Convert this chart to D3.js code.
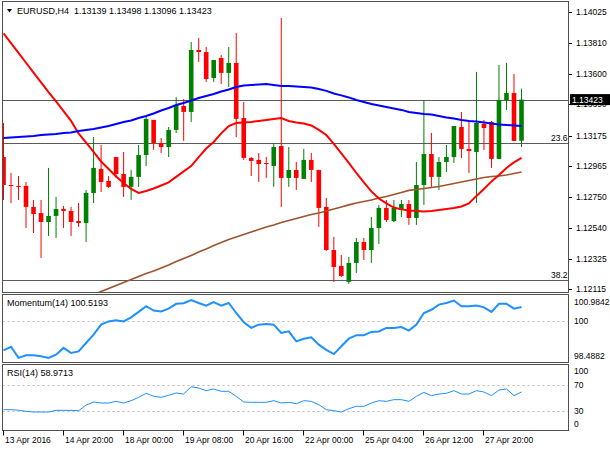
<!DOCTYPE html>
<html>
<head>
<meta charset="utf-8">
<script src="https://cdn.jsdelivr.net/npm/d3@7"></script>
<style>
body { margin: 0; background: #fff; }
text { font-family: "Liberation Sans", Arial, sans-serif; }
</style>
</head>
<body>
<div id="chart"></div>
<script>
// EURUSD H4, 70 bars
var symbol = "EURUSD,H4";

var open = [
1.13027,1.12834,1.12828,1.12828,1.12683,1.12641,1.12579,1.12621,1.12669,1.12655,
1.12586,1.12572,1.12779,1.12945,1.12862,1.13027,1.12910,1.12821,1.12890,1.13041,
1.13283,1.13124,1.13096,1.13214,1.13379,1.13338,1.13765,1.13751,1.13572,1.13710,
1.13607,1.13676,1.13296,1.13021,1.13007,1.12986,1.12965,1.13103,1.12883,1.12938,
1.12876,1.13007,1.12938,1.12683,1.12386,1.12276,1.12166,1.12297,1.12441,1.12386,
1.12538,1.12676,1.12586,1.12662,1.12703,1.12607,1.12834,1.13048,1.12890,1.12993,
1.13027,1.13234,1.13083,1.13062,1.13255,1.13269,1.13014,1.13420,1.13469,1.13139];

var high = [
1.13262,1.12917,1.12896,1.12855,1.12731,1.12731,1.12952,1.12752,1.12690,1.12683,
1.12710,1.12800,1.13165,1.13110,1.12896,1.13027,1.13062,1.12938,1.13110,1.13303,
1.13283,1.13158,1.13234,1.13441,1.13427,1.13820,1.13848,1.13786,1.13696,1.13731,
1.13786,1.13882,1.13407,1.13027,1.13055,1.13027,1.13124,1.13986,1.13096,1.12993,
1.13083,1.13055,1.12938,1.12745,1.12476,1.12352,1.12338,1.12469,1.12469,1.12614,
1.12697,1.12731,1.12731,1.12731,1.12731,1.12993,1.13420,1.13193,1.13027,1.13110,
1.13241,1.13338,1.13283,1.13614,1.13283,1.13276,1.13662,1.13676,1.13600,1.13498];

var low = [
1.12731,1.12710,1.12731,1.12538,1.12503,1.12331,1.12483,1.12469,1.12538,1.12483,
1.12545,1.12441,1.12710,1.12786,1.12814,1.12883,1.12752,1.12731,1.12821,1.12965,
1.13076,1.13055,1.13027,1.13193,1.13138,1.13269,1.13683,1.13545,1.13545,1.13531,
1.13510,1.13165,1.13007,1.12896,1.12855,1.12883,1.12821,1.12683,1.12821,1.12800,
1.12876,1.12855,1.12545,1.12380,1.12166,1.12200,1.12152,1.12228,1.12317,1.12297,
1.12428,1.12579,1.12579,1.12614,1.12559,1.12559,1.12697,1.12821,1.12800,1.12924,
1.12986,1.13021,1.12917,1.12710,1.13076,1.12952,1.13014,1.13352,1.13138,1.13096];

var close = [
1.12834,1.12828,1.12821,1.12683,1.12634,1.12579,1.12621,1.12669,1.12655,1.12579,
1.12572,1.12779,1.12952,1.12855,1.12821,1.12910,1.12821,1.12890,1.13041,1.13290,
1.13124,1.13096,1.13214,1.13386,1.13338,1.13765,1.13751,1.13565,1.13696,1.13607,
1.13676,1.13290,1.13021,1.13000,1.12979,1.12979,1.13096,1.12883,1.12938,1.12883,
1.13007,1.12938,1.12676,1.12386,1.12269,1.12207,1.12297,1.12441,1.12386,1.12538,
1.12676,1.12593,1.12676,1.12703,1.12607,1.12834,1.13048,1.12890,1.12993,1.13027,
1.13241,1.13083,1.13069,1.13262,1.13227,1.13014,1.13420,1.13469,1.13138,1.13423];

// moving averages (red fast, blue, brown slow)
var maRed = [
1.13880,1.13812,1.13745,1.13677,1.13609,1.13542,1.13474,1.13410,1.13343,1.13276,
1.13190,1.13127,1.13063,1.12996,1.12945,1.12893,1.12848,1.12807,1.12779,1.12793,
1.12810,1.12831,1.12852,1.12890,1.12928,1.12965,1.13027,1.13086,1.13131,1.13190,
1.13241,1.13262,1.13265,1.13269,1.13276,1.13283,1.13290,1.13296,1.13276,1.13265,
1.13258,1.13245,1.13214,1.13179,1.13117,1.13052,1.12986,1.12917,1.12852,1.12790,
1.12741,1.12707,1.12679,1.12666,1.12659,1.12655,1.12652,1.12655,1.12662,1.12669,
1.12676,1.12686,1.12707,1.12759,1.12807,1.12859,1.12903,1.12952,1.12990,1.13021];

var maBlue = [
1.13158,1.13162,1.13165,1.13169,1.13172,1.13179,1.13183,1.13186,1.13193,1.13196,
1.13207,1.13214,1.13221,1.13231,1.13241,1.13255,1.13269,1.13279,1.13296,1.13310,
1.13327,1.13348,1.13365,1.13386,1.13400,1.13417,1.13434,1.13448,1.13462,1.13479,
1.13493,1.13510,1.13520,1.13524,1.13527,1.13531,1.13524,1.13517,1.13517,1.13514,
1.13510,1.13507,1.13496,1.13483,1.13465,1.13452,1.13438,1.13420,1.13407,1.13393,
1.13383,1.13372,1.13362,1.13352,1.13338,1.13331,1.13324,1.13321,1.13310,1.13300,
1.13293,1.13283,1.13276,1.13272,1.13265,1.13258,1.13252,1.13248,1.13245,1.13241];

var maBrown = [
1.11835,1.11855,1.11876,1.11897,1.11914,1.11935,1.11955,1.11976,1.11997,1.12017,
1.12038,1.12059,1.12079,1.12100,1.12121,1.12141,1.12162,1.12183,1.12204,1.12224,
1.12241,1.12262,1.12283,1.12307,1.12328,1.12348,1.12372,1.12393,1.12417,1.12438,
1.12459,1.12476,1.12493,1.12510,1.12528,1.12545,1.12559,1.12576,1.12590,1.12603,
1.12617,1.12631,1.12641,1.12655,1.12669,1.12683,1.12697,1.12710,1.12721,1.12731,
1.12745,1.12755,1.12769,1.12783,1.12797,1.12803,1.12810,1.12817,1.12824,1.12834,
1.12845,1.12855,1.12865,1.12876,1.12886,1.12893,1.12896,1.12903,1.12914,1.12924];

var momentum = [
98.92,99.05,98.64,98.74,98.74,98.70,98.64,98.76,99.01,98.82,
98.88,99.19,99.50,99.87,99.99,100.03,99.99,100.14,100.34,100.55,
100.39,100.36,100.46,100.64,100.66,100.78,100.67,100.57,100.70,100.57,
100.67,100.30,99.96,99.75,99.87,99.89,99.87,99.56,99.62,99.25,
99.35,99.40,99.13,98.94,98.78,99.07,99.35,99.48,99.48,99.60,
99.62,99.75,99.75,99.78,99.65,99.87,100.30,100.42,100.61,100.67,
100.76,100.55,100.55,100.58,100.51,100.34,100.64,100.64,100.46,100.5193];

var rsi = [
31.7,31.7,31.0,29.2,28.1,28.1,28.1,30.7,30.7,30.7,
30.2,38.7,43.6,42.0,42.0,44.6,42.0,45.6,50.8,57.0,
52.4,50.8,53.9,57.5,55.9,67.3,65.2,61.1,63.7,60.1,
60.1,52.4,43.6,43.1,43.1,43.1,45.6,42.0,43.1,41.0,
45.6,44.6,39.5,31.7,30.2,28.1,33.3,36.9,36.9,42.0,
45.6,44.6,47.2,47.2,44.6,52.4,58.5,53.4,55.9,57.0,
61.1,55.9,55.9,61.1,59.0,53.4,62.1,63.7,53.4,58.9713];

// axis labels
var priceTicks = [1.14025,1.13810,1.13600,1.13390,1.13175,1.12965,1.12750,1.12540,1.12325,1.12115];
var momTicks = [100.9842, 100, 98.4882];
var momLevels = [100];
var rsiTicks = [100, 70, 30, 0];
var rsiLevels = [70, 30];
var timeTickBars = [0, 8, 16, 24, 32, 40, 48, 56, 64];
var timeTickLabels = ["13 Apr 2016","14 Apr 20:00","18 Apr 00:00","19 Apr 08:00","20 Apr 16:00",
                      "22 Apr 00:00","25 Apr 04:00","26 Apr 12:00","27 Apr 20:00"];
var fibNames = ["23.6", "38.2"];
var fibPrices = [1.13127, 1.12181];

function init ()
{
    var w = 610;
    var h = 450;
    var left = 2.5, right = 568.5;
    var mainTop = 1.5, mainBottom = 292.5;
    var momTop = 294.5, momBottom = 362.5;
    var rsiTop = 364.5, rsiBottom = 430.5;
    var n = close.length;
    var last = n - 1;

    var svg = d3.select("#chart")
        .append("svg")
        .attr("width", w)
        .attr("height", h)
        .style("display", "block");

    svg.append("rect").attr("width", w).attr("height", h).attr("fill", "#fff");

    var x = d3.scaleLinear().domain([0, last]).range([3.5, 521.5]);
    var y = d3.scaleLinear().domain([1.12115, 1.14025]).range([289.3, 12.3]);
    var yMom = d3.scaleLinear().domain([98.4882, 100.9842]).range([362, 294.5]);
    var yRsi = d3.scaleLinear().domain([0, 100]).range([430.2, 365.5]);

    var defs = svg.append("defs");
    function clip(id, top, bottom) {
        defs.append("clipPath").attr("id", id)
            .append("rect")
            .attr("x", left + 0.5).attr("y", top + 0.5)
            .attr("width", right - left - 1).attr("height", bottom - top - 1);
    }
    clip("clipMain", mainTop, mainBottom);
    clip("clipMom", momTop, momBottom);
    clip("clipRsi", rsiTop, rsiBottom);

    var idx = d3.range(n);

    // ---------- main price panel ----------
    var gMain = svg.append("g").attr("clip-path", "url(#clipMain)");

    // current price line and fibo levels
    gMain.append("line")
        .attr("x1", left).attr("x2", right)
        .attr("y1", Math.round(y(close[last])) + 0.5)
        .attr("y2", Math.round(y(close[last])) + 0.5)
        .attr("stroke", "#5a5a5a").attr("stroke-width", 1);

    gMain.selectAll(".fib")
        .data(fibPrices)
        .enter()
        .append("line")
        .attr("x1", left).attr("x2", right)
        .attr("y1", function(d) { return Math.round(y(d)) + 0.5; })
        .attr("y2", function(d) { return Math.round(y(d)) + 0.5; })
        .attr("stroke", "#5a5a5a").attr("stroke-width", 1);

    gMain.selectAll(".fibText")
        .data(fibNames)
        .enter()
        .append("text")
        .attr("x", right - 1)
        .attr("y", function(d, i) { return Math.round(y(fibPrices[i])) - 2; })
        .attr("text-anchor", "end")
        .attr("font-size", "8.5px")
        .attr("fill", "#000")
        .text(function(d) { return d; });

    // candles
    var bodyW = 4.6;
    var candles = gMain.selectAll(".candle")
        .data(idx)
        .enter()
        .append("g")
        .attr("fill", function(i) { return close[i] >= open[i] ? "#008000" : "#ff0000"; })
        .attr("stroke", function(i) { return close[i] >= open[i] ? "#008000" : "#ff0000"; });

    candles.append("line")
        .attr("x1", function(i) { return x(i); })
        .attr("x2", function(i) { return x(i); })
        .attr("y1", function(i) { return y(high[i]); })
        .attr("y2", function(i) { return y(low[i]); })
        .attr("stroke-width", 1);

    candles.append("rect")
        .attr("x", function(i) { return x(i) - bodyW / 2; })
        .attr("width", bodyW)
        .attr("y", function(i) { return y(Math.max(open[i], close[i])); })
        .attr("height", function(i) {
            return Math.max(1, Math.abs(y(open[i]) - y(close[i])));
        })
        .attr("stroke", "none");

    // moving averages
    function maLine(values) {
        return d3.line()
            .x(function(d, i) { return x(i); })
            .y(function(d) { return y(d); })(values);
    }
    gMain.append("path").attr("d", maLine(maBrown))
        .attr("fill", "none").attr("stroke", "#a0522d").attr("stroke-width", 1.6);
    gMain.append("path").attr("d", maLine(maRed))
        .attr("fill", "none").attr("stroke", "#ff0000").attr("stroke-width", 2);
    gMain.append("path").attr("d", maLine(maBlue))
        .attr("fill", "none").attr("stroke", "#0000ff").attr("stroke-width", 2);

    // header
    svg.append("path")
        .attr("d", "M7,9 L12,9 L9.5,12.5 Z")
        .attr("fill", "#000");
    svg.append("text")
        .attr("x", 17).attr("y", 13.5)
        .attr("font-size", "9px")
        .attr("fill", "#000")
        .attr("xml:space", "preserve")
        .text(symbol + "  " + [open[last], high[last], low[last], close[last]]
            .map(function(v) { return v.toFixed(5); }).join(" "));

    // right price axis
    var axisX = right + 0.5;
    svg.selectAll(".pTick")
        .data(priceTicks)
        .enter()
        .append("line")
        .attr("x1", axisX).attr("x2", axisX + 3)
        .attr("y1", function(d) { return Math.round(y(d)) + 0.5; })
        .attr("y2", function(d) { return Math.round(y(d)) + 0.5; })
        .attr("stroke", "#000");

    svg.selectAll(".pLabel")
        .data(priceTicks)
        .enter()
        .append("text")
        .attr("x", axisX + 7)
        .attr("y", function(d) { return y(d) + 3; })
        .attr("font-size", "8.5px")
        .attr("fill", "#000")
        .text(function(d) { return d.toFixed(5); });

    // current price box
    var cy = y(close[last]);
    svg.append("rect")
        .attr("x", axisX + 1).attr("y", cy - 5.5)
        .attr("width", 40).attr("height", 11)
        .attr("fill", "#000");
    svg.append("text")
        .attr("x", axisX + 3).attr("y", cy + 3)
        .attr("font-size", "8.5px")
        .attr("fill", "#fff")
        .text(close[last].toFixed(5));

    // ---------- momentum panel ----------
    var gMom = svg.append("g").attr("clip-path", "url(#clipMom)");
    gMom.selectAll(".mLevel")
        .data(momLevels)
        .enter()
        .append("line")
        .attr("x1", left).attr("x2", right)
        .attr("y1", function(d) { return Math.round(yMom(d)) + 0.5; })
        .attr("y2", function(d) { return Math.round(yMom(d)) + 0.5; })
        .attr("stroke", "#c8b4b4").attr("stroke-dasharray", "2,3");
    gMom.append("path")
        .attr("d", d3.line()
            .x(function(d, i) { return x(i); })
            .y(function(d) { return yMom(d); })(momentum))
        .attr("fill", "none").attr("stroke", "#1e90ff").attr("stroke-width", 2);

    svg.append("text")
        .attr("x", 7).attr("y", 306)
        .attr("font-size", "9px").attr("fill", "#000")
        .text("Momentum(14) " + momentum[last].toFixed(4));

    svg.selectAll(".mLabel")
        .data(momTicks)
        .enter()
        .append("text")
        .attr("x", axisX + 5)
        .attr("y", function(d, i) {
            var off = 3;
            if (i == 0) off = 10.5;
            if (i == momTicks.length - 1) off = -3;
            return yMom(d) + off;
        })
        .attr("font-size", "8.5px").attr("fill", "#000")
        .text(function(d) { return d == 100 ? "100" : d.toFixed(4); });

    // ---------- RSI panel ----------
    var gRsi = svg.append("g").attr("clip-path", "url(#clipRsi)");
    gRsi.selectAll(".rLevel")
        .data(rsiLevels)
        .enter()
        .append("line")
        .attr("x1", left).attr("x2", right)
        .attr("y1", function(d) { return Math.round(yRsi(d)) + 0.5; })
        .attr("y2", function(d) { return Math.round(yRsi(d)) + 0.5; })
        .attr("stroke", "#c8b4b4").attr("stroke-dasharray", "2,3");
    gRsi.append("path")
        .attr("d", d3.line()
            .x(function(d, i) { return x(i); })
            .y(function(d) { return yRsi(d); })(rsi))
        .attr("fill", "none").attr("stroke", "#1e90ff").attr("stroke-width", 1);

    svg.append("text")
        .attr("x", 7).attr("y", 376)
        .attr("font-size", "9px").attr("fill", "#000")
        .text("RSI(14) " + rsi[last].toFixed(4));

    svg.selectAll(".rLabel")
        .data(rsiTicks)
        .enter()
        .append("text")
        .attr("x", axisX + 5)
        .attr("y", function(d, i) {
            var off = 3;
            if (i == 0) off = 8;
            if (i == rsiTicks.length - 1) off = -3;
            return yRsi(d) + off;
        })
        .attr("font-size", "8.5px").attr("fill", "#000")
        .text(function(d) { return d; });

    // panel borders
    [[mainTop, mainBottom], [momTop, momBottom], [rsiTop, rsiBottom]].forEach(function(p) {
        svg.append("rect")
            .attr("x", left).attr("y", p[0])
            .attr("width", right - left).attr("height", p[1] - p[0])
            .attr("fill", "none").attr("stroke", "#505050").attr("stroke-width", 1);
    });

    // time axis
    svg.selectAll(".tTick")
        .data(timeTickBars)
        .enter()
        .append("line")
        .attr("x1", function(d) { return Math.round(x(d) - 1) + 0.5; })
        .attr("x2", function(d) { return Math.round(x(d) - 1) + 0.5; })
        .attr("y1", rsiBottom).attr("y2", rsiBottom + 5)
        .attr("stroke", "#000");

    svg.selectAll(".tLabel")
        .data(timeTickLabels)
        .enter()
        .append("text")
        .attr("x", function(d, i) { return Math.round(x(timeTickBars[i]) - 1) + 2; })
        .attr("y", 443)
        .attr("font-size", "8.5px").attr("fill", "#000")
        .text(function(d) { return d; });
}

window.onload = init;
</script>
</body>
</html>
